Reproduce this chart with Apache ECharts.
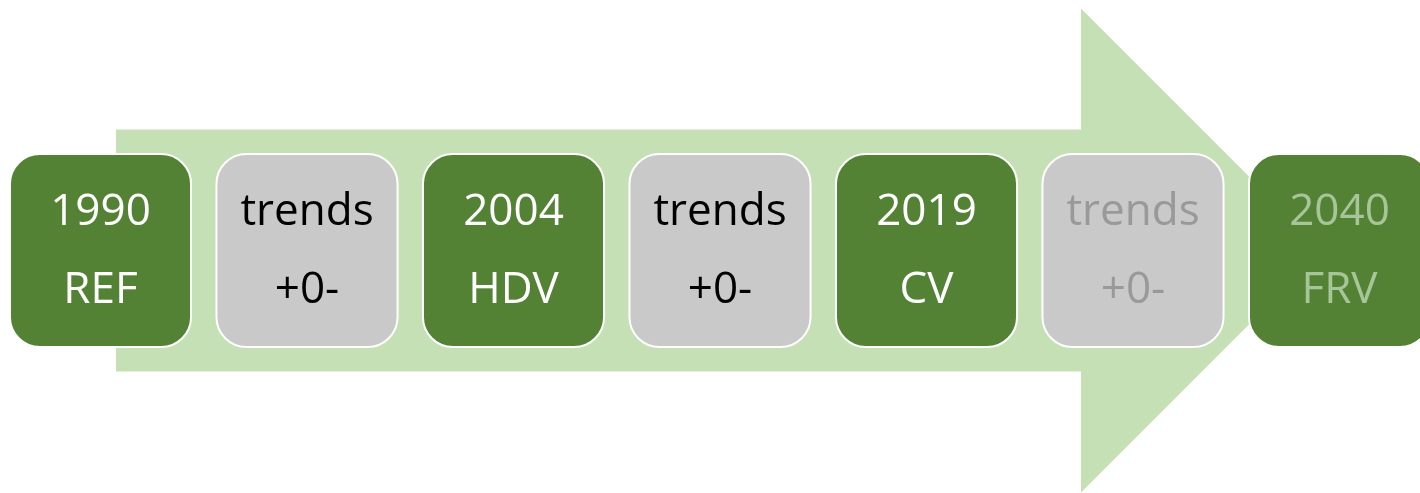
<!DOCTYPE html>
<html><head><meta charset="utf-8">
<script src="https://cdn.jsdelivr.net/npm/echarts@6/dist/echarts.min.js"></script>
<style>html,body{margin:0;padding:0;background:#fff}#c{width:1420px;height:493px}</style>
</head><body><div id="c"></div>
<script>
// Data
const stageTop = ['1990', 'trends', '2004', 'trends', '2019', 'trends', '2040'];
const stageBottom = ['REF', '+0-', 'HDV', '+0-', 'CV', '+0-', 'FRV'];
const stageKind = ['milestone', 'trend', 'milestone', 'trend', 'milestone', 'faded-trend', 'faded-milestone'];

// Styles
const FILL = { 'milestone': '#548235', 'trend': '#C9C9C9', 'faded-trend': '#C9C9C9', 'faded-milestone': '#548235' };
const TEXT = { 'milestone': '#ffffff', 'trend': '#000000', 'faded-trend': '#999999', 'faded-milestone': '#A8C59A' };
const FONT = '"Open Sans", sans-serif';

const chart = echarts.init(document.getElementById('c'));
const boxData = stageTop.map((t, i) => [i, 0]);

chart.setOption({
  animation: false,
  grid: { left: 0, right: 0, top: 0, bottom: 0 },
  xAxis: { type: 'value', min: -0.4867, max: 6.3898, show: false },
  yAxis: { type: 'value', min: -242.5, max: 250.5, show: false },
  series: [
    {
      type: 'custom',
      data: [[0, 0]],
      silent: true,
      renderItem(params, api) {
        const bodyStart = 0.075, neck = 4.748, tip = 5.92;
        const bodyH = 121, headH = 242;
        const pts = [
          api.coord([bodyStart, bodyH]),
          api.coord([neck, bodyH]),
          api.coord([neck, headH]),
          api.coord([tip, 0]),
          api.coord([neck, -headH]),
          api.coord([neck, -bodyH]),
          api.coord([bodyStart, -bodyH])
        ];
        return { type: 'polygon', shape: { points: pts }, style: { fill: '#C5E0B4' } };
      },
      z: 1
    },
    {
      type: 'custom',
      data: boxData,
      silent: true,
      z: 2,
      renderItem(params, api) {
        const i = params.dataIndex;
        const c = api.coord([api.value(0), api.value(1)]);
        const w = api.size([0.877, 0])[0];
        const h = 193;
        const kind = stageKind[i];
        return {
          type: 'group',
          children: [
            { type: 'rect', shape: { x: c[0] - w / 2, y: c[1] - h / 2, width: w, height: h, r: 30 },
              style: { fill: FILL[kind], stroke: '#ffffff', lineWidth: 2 } },
            { type: 'text', x: c[0], y: c[1] - 38,
              style: { text: stageTop[i], fill: TEXT[kind], font: '44px ' + FONT, align: 'center', verticalAlign: 'middle' } },
            { type: 'text', x: c[0], y: c[1] + 40,
              style: { text: stageBottom[i], fill: TEXT[kind], font: '44px ' + FONT, align: 'center', verticalAlign: 'middle' } }
          ]
        };
      }
    }
  ]
});
</script></body></html>
